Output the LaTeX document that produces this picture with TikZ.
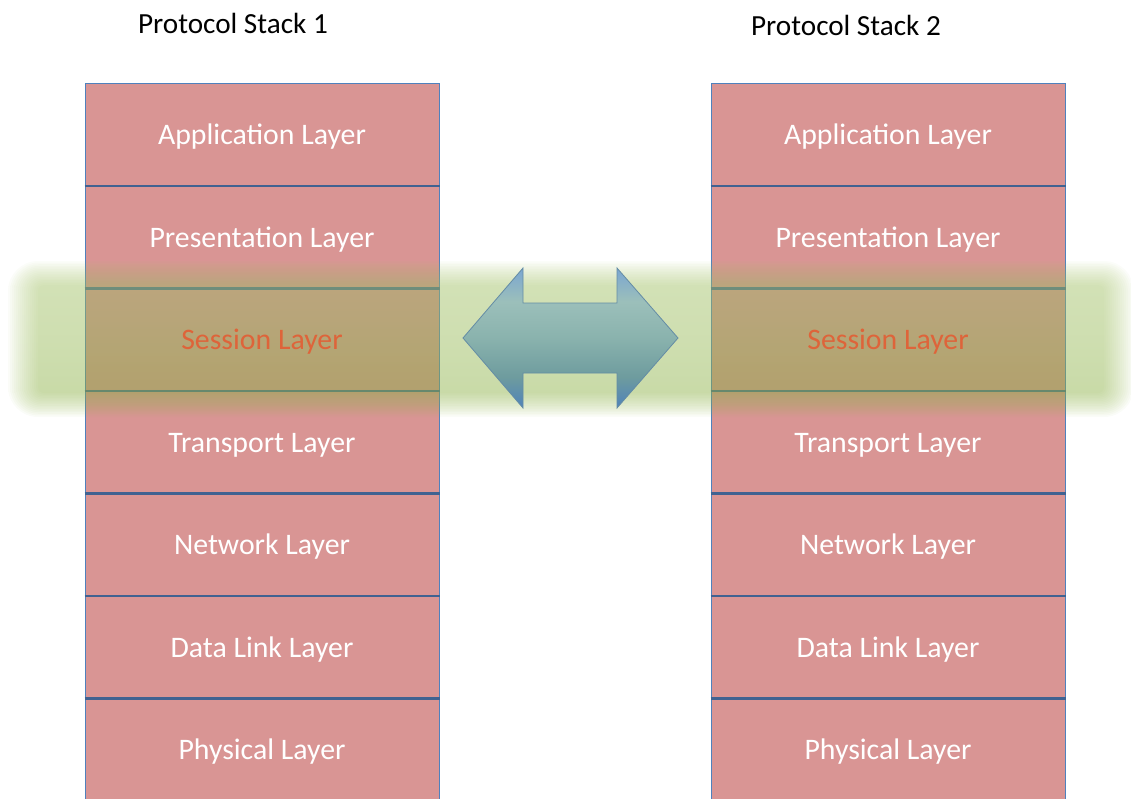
\documentclass[tikz,border=0pt]{standalone}
\usepackage{fontspec}
\setmainfont{Carlito}
\definecolor{cellpink}{RGB}{217,149,148}
\definecolor{cellline}{RGB}{79,129,189}
\definecolor{sepline}{RGB}{64,98,145}
\definecolor{bandtop}{RGB}{170,198,115}
\definecolor{bandbot}{RGB}{148,182,82}
\definecolor{sessiontext}{RGB}{222,100,58}
\definecolor{arrowline}{RGB}{100,140,165}
% vertical fill of the double arrow (bounding box maps to 25bp..75bp)
\pgfdeclareverticalshading{arrowfill}{100bp}{%
  rgb(0bp)=(0.31,0.51,0.73); rgb(25bp)=(0.31,0.51,0.73);
  rgb(36bp)=(0.43,0.61,0.62); rgb(50bp)=(0.54,0.70,0.68);
  rgb(63bp)=(0.61,0.75,0.73); rgb(75bp)=(0.48,0.65,0.82);
  rgb(100bp)=(0.48,0.65,0.82)}
\begin{document}
\begin{tikzpicture}[x=1pt,y=-1pt,
  every node/.style={font=\fontsize{29.8}{35}\selectfont},
  cell/.style={draw=cellline, line width=1pt, fill=cellpink,
    minimum width=354pt, minimum height=102.5pt, inner sep=0pt,
    text=white, text height=21.4pt, text depth=0pt},
  celltext/.style={inner sep=0pt, text height=21.4pt, text depth=0pt},
  sep/.style={draw=sepline, line width=2.2pt},
  title/.style={anchor=base, text=black, font=\fontsize{29.2}{35}\selectfont}]
\useasboundingbox (0,0) rectangle (1131,798);
\clip (0,0) rectangle (1131,798);

% the two protocol stacks
\foreach \i/\t in {1/Application Layer,2/Presentation Layer,3/{},4/Transport Layer,5/Network Layer,6/Data Link Layer,7/Physical Layer}{
  \node[cell] (a\i) at (262,{83+102.5*(\i-0.5)}) {\t};
  \node[cell] (b\i) at (888,{83+102.5*(\i-0.5)}) {\t};
}
\foreach \i in {1,...,6}{
  \draw[sep] (a\i.south west) -- (a\i.south east);
  \draw[sep] (b\i.south west) -- (b\i.south east);
}

% soft green highlight band across the session layer
\foreach \k in {0,...,15}{
  \pgfmathsetmacro{\xa}{8+2*\k}
  \pgfmathsetmacro{\xb}{1134-2*\k}
  \pgfmathsetmacro{\ya}{261+1.6*\k}
  \pgfmathsetmacro{\yb}{417-1.6*\k}
  \pgfmathsetmacro{\rc}{30-1.6*\k}
  \shade[top color=bandtop, bottom color=bandbot, fill opacity=0.042,
    rounded corners=\rc pt] (\xa,\ya) rectangle (\xb,\yb);
}

% session layer labels
\node[celltext, text=sessiontext] (s1) at (a3) {Session Layer};
\node[celltext, text=sessiontext] (s2) at (b3) {Session Layer};

% double-headed arrow between the session layers
\shade[shading=arrowfill, draw=arrowline, line width=0.8pt]
  (463,338) -- (523,268) -- (523,303) -- (617,303) -- (617,268)
  -- (678,338) -- (617,408) -- (617,373) -- (523,373) -- (523,408) -- cycle;

% stack titles
\node[title] (t1) at (233,33) {Protocol Stack 1};
\node[title] (t2) at (846,35) {Protocol Stack 2};
\end{tikzpicture}
\end{document}
